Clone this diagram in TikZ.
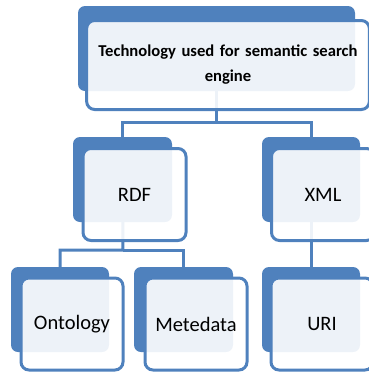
\documentclass[tikz,border=0pt]{standalone}
\usepackage{fontspec}
\setmainfont{Carlito}
\usetikzlibrary{positioning}

\definecolor{smblue}{HTML}{4F81BD}

\begin{document}
\begin{tikzpicture}[
                x = 1pt, y = -1pt, % picture measured in points, y going down
                line width = 3pt % line style
            ]

            \tikzstyle{backbox}=[fill = smblue, draw = none, rounded corners = 7pt,
            minimum height = 85pt]
            \tikzstyle{frontbox}=[fill = white, fill opacity = 0.9, text opacity = 1,
            draw = smblue, line width = 3pt, rounded corners = 8pt, minimum height = 92pt,
            font = \fontsize{20.5}{24}\selectfont]
            \tikzstyle{link}=[draw = smblue, line width = 3pt]

            \useasboundingbox (0,0) rectangle (369,373);
            \clip (0,0) rectangle (369,373);

            % junction points of the connectors
            \coordinate (j1) at (217,122); \coordinate (j2) at (123,250);

            % back plates
            \node (topb) [backbox, minimum width = 277pt] at (216.5,48.5) {};
            \node (rdfb) [backbox, minimum width = 99pt] at (122.5,179.5) {};
            \node (xmlb) [backbox, minimum width = 98pt] at (311,179.5) {};
            \node (ontob) [backbox, minimum width = 98pt] at (60,309.5) {};
            \node (metab) [backbox, minimum width = 99pt] at (183.5,309.5) {};
            \node (urib) [backbox, minimum width = 98pt] at (311,309.5) {};

            % connectors
            \path[link] (topb.center) -- (topb.center |- j1) -| ([yshift=-6pt]rdfb.north);
            \path[link] (topb.center |- j1) -| ([yshift=-6pt]xmlb.north);
            \path[link] (rdfb.center) -- (j2) -| ([yshift=-5pt]ontob.north);
            \path[link] (j2) -| ([yshift=-5pt]metab.north);
            \path[link] (xmlb.center) -- ([yshift=-5pt]urib.north);

            % front boxes
            \node (top) [frontbox, minimum width = 280pt, minimum height = 89pt,
            text width = 276pt, align = center,
            font = \bfseries\fontsize{16.6}{25}\selectfont] at (228,65)
            {Technology used for semantic search\\ engine};
            \node (rdf) [frontbox, minimum width = 103pt] at (134.5,194.5) {RDF};
            \node (xml) [frontbox, minimum width = 103pt] at (323,194.5) {XML};
            \node (onto) [frontbox, minimum width = 102pt] at (72,324) {Ontology};
            \node (meta) [frontbox, minimum width = 102pt] at (196,324) {Metedata};
            \node (uri) [frontbox, minimum width = 102pt] at (322,324) {URI};

        \end{tikzpicture}
\end{document}
